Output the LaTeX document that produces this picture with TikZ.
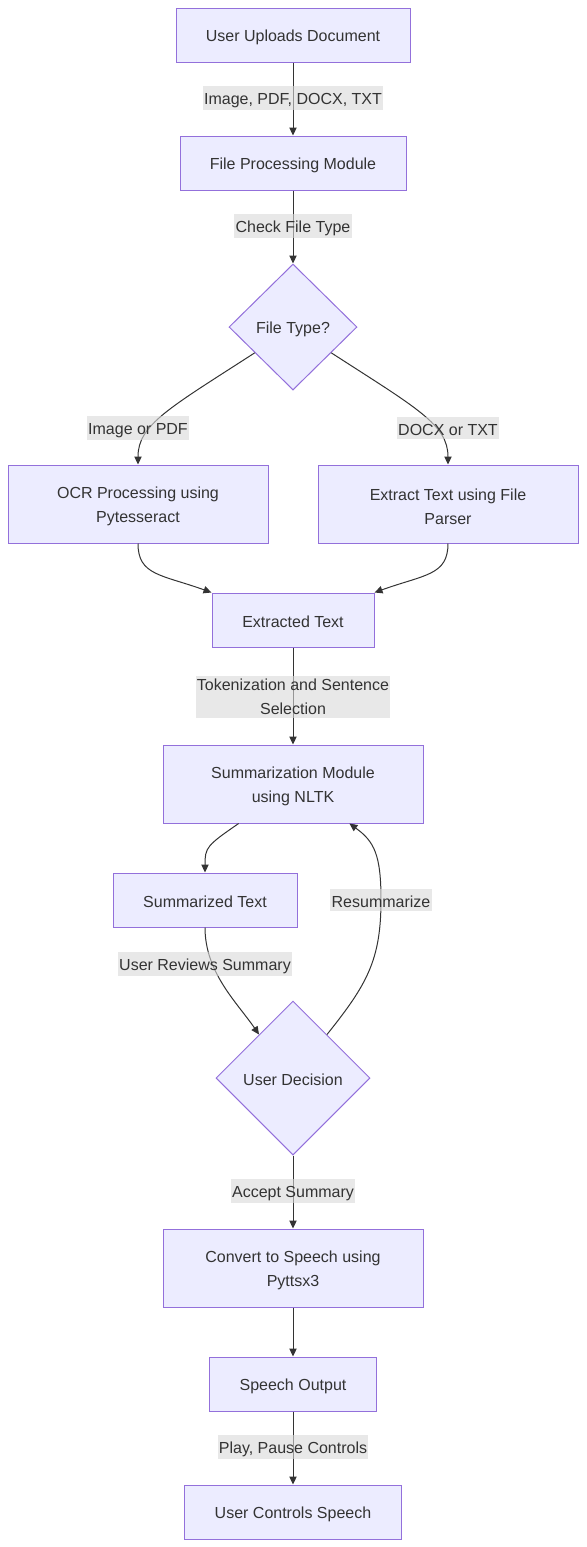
\documentclass[tikz,border=0pt]{standalone}
\usepackage{fontspec}
\setmainfont{Liberation Sans}
\usetikzlibrary{arrows.meta}
\usetikzlibrary{shapes.geometric}

\definecolor{mmfill}{RGB}{236,236,255}
\definecolor{mmborder}{RGB}{147,112,219}
\definecolor{mmtext}{RGB}{51,51,51}
\definecolor{mmlabel}{RGB}{217,217,217}

\newcommand{\lowline}{\rule{0pt}{12.5pt}}

\tikzset{
  lowtext/.style={execute at begin node={\rule{0pt}{11.7pt}}},
  box/.style={rectangle, draw=mmborder, fill=mmfill, text=mmtext, line width=0.75pt,
    inner sep=0pt, align=center, font=\fontsize{12}{18}\selectfont, lowtext},
  decide/.style={diamond, draw=mmborder, fill=mmfill, text=mmtext, line width=0.75pt,
    inner sep=0pt, aspect=1, font=\fontsize{12}{18}\selectfont, lowtext},
  lbl/.style={fill=mmlabel, fill opacity=0.6, text opacity=1, text=mmtext, inner xsep=1pt,
    inner ysep=2pt, align=center, font=\fontsize{12}{18}\selectfont, lowtext},
  edge/.style={draw=mmtext, line width=0.75pt, -{Triangle[length=6pt,width=5.5pt]}}
}

\begin{document}
\begin{tikzpicture}[x=0.75pt,y=0.75pt,yscale=-1,xscale=1]
\useasboundingbox (0,0) rectangle (586,1547);

% Nodes
\node [box, minimum width=175.5pt, minimum height=40.5pt] (upload) at (293,35) {User Uploads Document};
\node [box, minimum width=169.5pt, minimum height=40.5pt] (fileproc) at (293,163) {File Processing Module};
\node [decide, minimum width=96pt, minimum height=94.5pt] (ftype) at (293,327) {File Type?};
\node [box, minimum width=195pt, minimum height=58.5pt] (ocr) at (138,504) {\lowline OCR Processing using\\Pytesseract};
\node [box, minimum width=195pt, minimum height=58.5pt] (parser) at (448,504) {\lowline Extract Text using File\\Parser};
\node [box, minimum width=121.5pt, minimum height=40.5pt] (extracted) at (293,620) {Extracted Text};
\node [box, minimum width=195pt, minimum height=58.5pt] (summ) at (293,784) {\lowline Summarization Module\\using NLTK};
\node [box, minimum width=138pt, minimum height=40.5pt] (summarized) at (205,900) {Summarized Text};
\node [decide, minimum width=115.5pt, minimum height=115.5pt] (decision) at (293,1078) {User Decision};
\node [box, minimum width=195pt, minimum height=58.5pt] (convert) at (293,1268) {\lowline Convert to Speech using\\Pyttsx3};
\node [box, minimum width=125.25pt, minimum height=40.5pt] (speechout) at (293,1384) {Speech Output};
\node [box, minimum width=162.75pt, minimum height=40.5pt] (controls) at (293,1512) {User Controls Speech};

\coordinate (rs) at (381,900);

% Connectors
\draw [edge] (upload) -- (fileproc);
\draw [edge] (fileproc) -- (ftype);
\draw [edge] (ftype.214) .. controls +(-85,55) and +(0,-40) .. (ocr.north);
\draw [edge] (ftype.326) .. controls +(85,55) and +(0,-40) .. (parser.north);
\draw [edge] (ocr.south) .. controls +(0,32) and +(-50,-18) .. (extracted.north west);
\draw [edge] (parser.south) .. controls +(0,32) and +(50,-18) .. (extracted.north east);
\draw [edge] (extracted) -- (summ);
\draw [edge] (summ.216) .. controls +(-32,22) and +(0,-25) .. (summarized.north);
\draw [edge] (summarized.south) .. controls +(0,45) and +(-22,-32) .. (decision.128);
\draw [edge] (decision.52) .. controls +(40,-50) and +(0,60) .. (rs) .. controls +(0,-45) and +(25,18) .. (summ.325);
\draw [edge] (decision) -- (convert);
\draw [edge] (convert) -- (speechout);
\draw [edge] (speechout) -- (controls);

% Labels
\node [lbl] (lupload) at (293,98) {Image, PDF, DOCX, TXT};
\node [lbl] (lcheck) at (293,226) {Check File Type};
\node [lbl] (limage) at (138,428) {Image or PDF};
\node [lbl] (ldocx) at (448,428) {DOCX or TXT};
\node [lbl] (ltoken) at (293,697) {Tokenization and Sentence\\Selection};
\node [lbl] (lreview) at (205,964) {User Reviews Summary};
\node [lbl] (lresum) at (rs) {Resummarize};
\node [lbl] (laccept) at (293,1191) {Accept Summary};
\node [lbl] (lplay) at (293,1447) {Play, Pause Controls};

\end{tikzpicture}
\end{document}
